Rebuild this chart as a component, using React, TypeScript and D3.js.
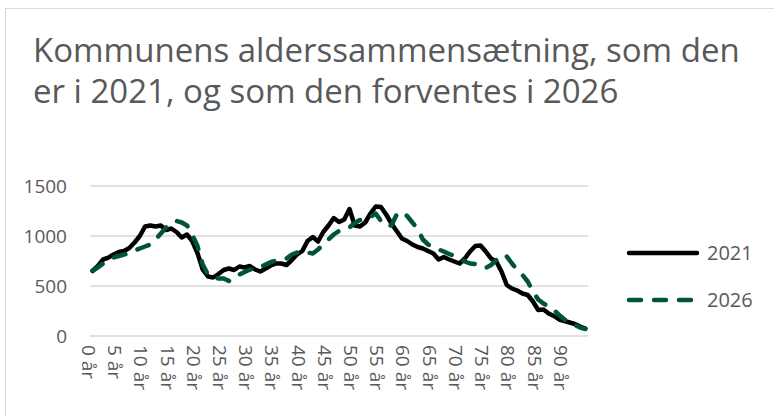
import React from "react";
import * as d3 from "d3";

const title = ["Kommunens alderssammensætning, som den", "er i 2021, og som den forventes i 2026"];
const ages = d3.range(0, 95).map(a => `${a} år`);
const pop2021 = [650, 700, 765, 783, 815, 840, 850, 880, 935, 1000, 1095, 1105, 1095, 1105, 1060, 1075, 1040, 985, 1015, 950,
  830, 665, 595, 585, 620, 660, 675, 660, 695, 685, 700, 665, 645, 675, 705, 725, 725, 710, 760, 815,
  850, 950, 990, 945, 1040, 1105, 1180, 1140, 1165, 1270, 1105, 1095, 1135, 1225, 1295, 1290, 1215, 1125, 1050, 975,
  950, 915, 890, 875, 850, 825, 765, 790, 765, 745, 725, 775, 845, 900, 905, 845, 775, 745, 645, 510,
  475, 455, 425, 410, 345, 260, 265, 225, 200, 165, 150, 135, 120, 95, 75];
const pop2026 = [655, 685, 725, 760, 785, 800, 815, 830, 855, 875, 895, 915, 965, 1025, 1085, 1130, 1150, 1135, 1105, 1015,
  900, 715, 615, 585, 575, 575, 550, 595, 615, 640, 665, 670, 690, 715, 740, 755, 760, 775, 815, 835,
  850, 835, 825, 865, 915, 965, 1015, 1050, 1060, 1085, 1130, 1160, 1165, 1190, 1225, 1150, 1100, 1105, 1215, 1240,
  1200, 1135, 1070, 965, 915, 885, 865, 845, 820, 800, 775, 745, 725, 720, 700, 680, 710, 760, 810, 795,
  725, 660, 610, 545, 445, 365, 325, 295, 260, 210, 165, 145, 110, 85, 70];
const yTicks = [0, 500, 1000, 1500];
const series = [
  { name: "2021", values: pop2021, color: "#000000", dash: null },
  { name: "2026", values: pop2026, color: "#00533f", dash: "12 13" },
];

const W = 774, H = 416;
const font = "'Open Sans', sans-serif";
const textColor = "#595959";

export default function App() {
  const x = d3.scalePoint<string>().domain(ages).range([90, 588]).padding(0.5);
  const y = d3.scaleLinear().domain([0, 1500]).range([336, 186]);
  const line = d3.line<number>()
    .x((_, i) => x(ages[i]) as number)
    .y(d => y(d));

  return (
    <svg width={W} height={H} style={{ position: "absolute", left: 0, top: 0, background: "#fff" }}>
      <rect x={5.5} y={8.5} width={W + 10} height={H + 10} fill="#fff" stroke="#d9d9d9" strokeWidth={1} />
      {title.map((t, i) => (
        <text key={i} x={33} y={62 + i * 41} fontFamily={font} fontSize={33} fill={textColor}>{t}</text>
      ))}
      {yTicks.map(t => (
        <g key={t}>
          <line x1={90} x2={588} y1={y(t)} y2={y(t)} stroke="#d9d9d9" strokeWidth={1.5} />
          <text x={67} y={y(t)} dy="0.35em" textAnchor="end" fontFamily={font} fontSize={19} fill={textColor}>{t}</text>
        </g>
      ))}
      {ages.filter((_, i) => i % 5 === 0).map(a => (
        <text key={a} transform={`translate(${(x(a) as number) - 4},345) rotate(90)`} dy="0.35em"
          fontFamily={font} fontSize={19} fill={textColor}>{a}</text>
      ))}
      {series.map(s => (
        <path key={s.name} d={line(s.values) || ""} fill="none" stroke={s.color} strokeWidth={4.5}
          strokeLinecap="round" strokeLinejoin="round" strokeDasharray={s.dash || undefined} />
      ))}
      {series.map((s, i) => (
        <g key={s.name} transform={`translate(0,${253 + i * 47})`}>
          <line x1={629} x2={697} y1={0} y2={0} stroke={s.color} strokeWidth={4.5} strokeLinecap="round"
            strokeDasharray={s.dash || undefined} />
          <text x={707} y={0} dy="0.35em" fontFamily={font} fontSize={20} fill={textColor}>{s.name}</text>
        </g>
      ))}
    </svg>
  );
}
